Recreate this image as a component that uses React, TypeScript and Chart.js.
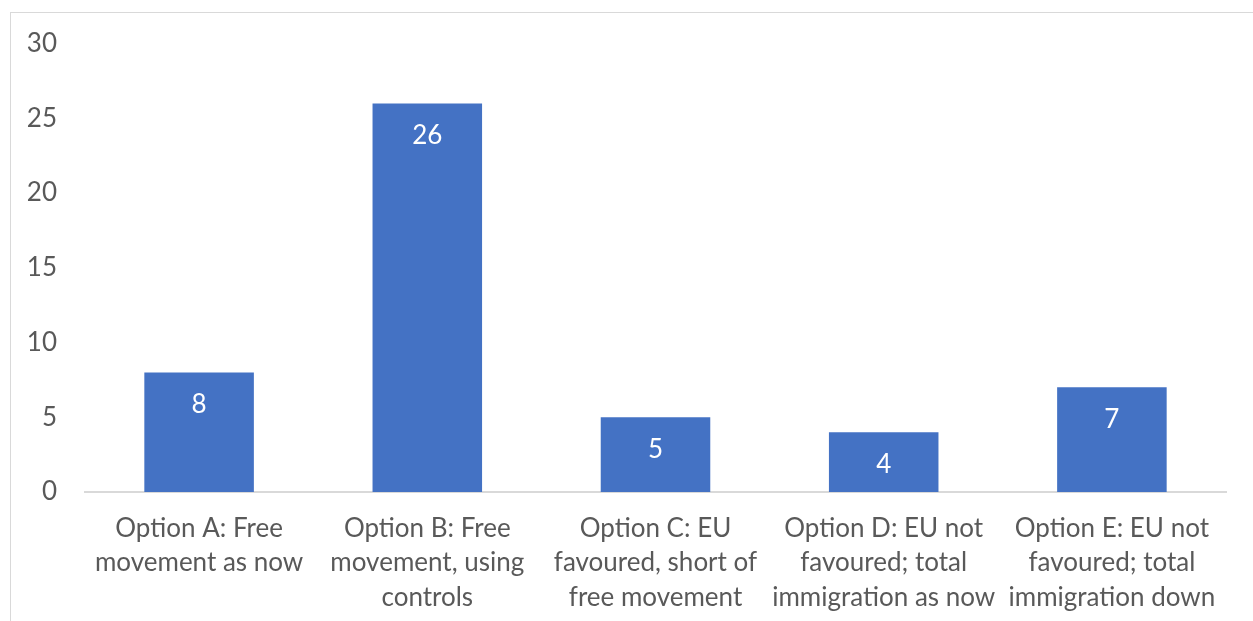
import React, { useEffect, useRef } from "react";
import { Chart, registerables } from "chart.js";

Chart.register(...registerables);

const categories: string[][] = [
  ["Option A: Free", "movement as now"],
  ["Option B: Free", "movement, using", "controls"],
  ["Option C: EU", "favoured, short of", "free movement"],
  ["Option D: EU not", "favoured; total", "immigration as now"],
  ["Option E: EU not", "favoured; total", "immigration down"],
];
const values: number[] = [8, 26, 5, 4, 7];
const yMin = 0;
const yMax = 30;
const yStep = 5;

const FONT = "Lato, 'Open Sans', sans-serif";

const dataLabelPlugin = {
  id: "barValueLabels",
  afterDatasetsDraw(chart: any) {
    const ctx = chart.ctx;
    const meta = chart.getDatasetMeta(0);
    ctx.save();
    ctx.fillStyle = "#ffffff";
    ctx.font = `26px ${FONT}`;
    ctx.textAlign = "center";
    ctx.textBaseline = "middle";
    meta.data.forEach((bar: any, i: number) => {
      ctx.fillText(String(values[i]), bar.x, bar.y + 32);
    });
    ctx.restore();
  },
};

export default function App() {
  const ref = useRef<HTMLCanvasElement>(null);
  useEffect(() => {
    if (!ref.current) return;
    const chart = new Chart(ref.current, {
      type: "bar",
      data: {
        labels: categories,
        datasets: [
          {
            data: values,
            backgroundColor: "#4472C4",
            borderWidth: 0,
            categoryPercentage: 0.96,
            barPercentage: 0.5,
          },
        ],
      },
      options: {
        responsive: false,
        animation: false,
        layout: { padding: { left: 0, right: 27, top: 43, bottom: 0 } },
        plugins: { legend: { display: false }, tooltip: { enabled: false } },
        scales: {
          x: {
            grid: { display: false, drawTicks: false },
            border: { display: true, color: "#d9d9d9", width: 2 },
            ticks: {
              color: "#595959",
              font: { family: FONT, size: 26, lineHeight: 1.31 },
              padding: 20,
              maxRotation: 0,
              autoSkip: false,
            },
            afterFit: (s: any) => {
              s.height = 621 - 492;
            },
          },
          y: {
            min: yMin,
            max: yMax,
            grid: { display: false, drawTicks: false },
            border: { display: false },
            ticks: {
              stepSize: yStep,
              color: "#595959",
              font: { family: FONT, size: 26 },
              padding: 28,
            },
            afterFit: (s: any) => {
              s.width = 85;
            },
          },
        },
      },
      plugins: [dataLabelPlugin],
    });
    return () => chart.destroy();
  }, []);
  return (
    <div style={{ position: "fixed", left: 0, top: 0, width: 1253, height: 621, background: "#fff" }}>
      <div
        style={{
          position: "absolute",
          left: 10,
          top: 12,
          right: 0,
          bottom: 0,
          borderLeft: "1px solid #d9d9d9",
          borderTop: "1px solid #d9d9d9",
        }}
      />
      <canvas ref={ref} width={1253} height={621} style={{ position: "absolute", left: 0, top: 0 }} />
    </div>
  );
}
